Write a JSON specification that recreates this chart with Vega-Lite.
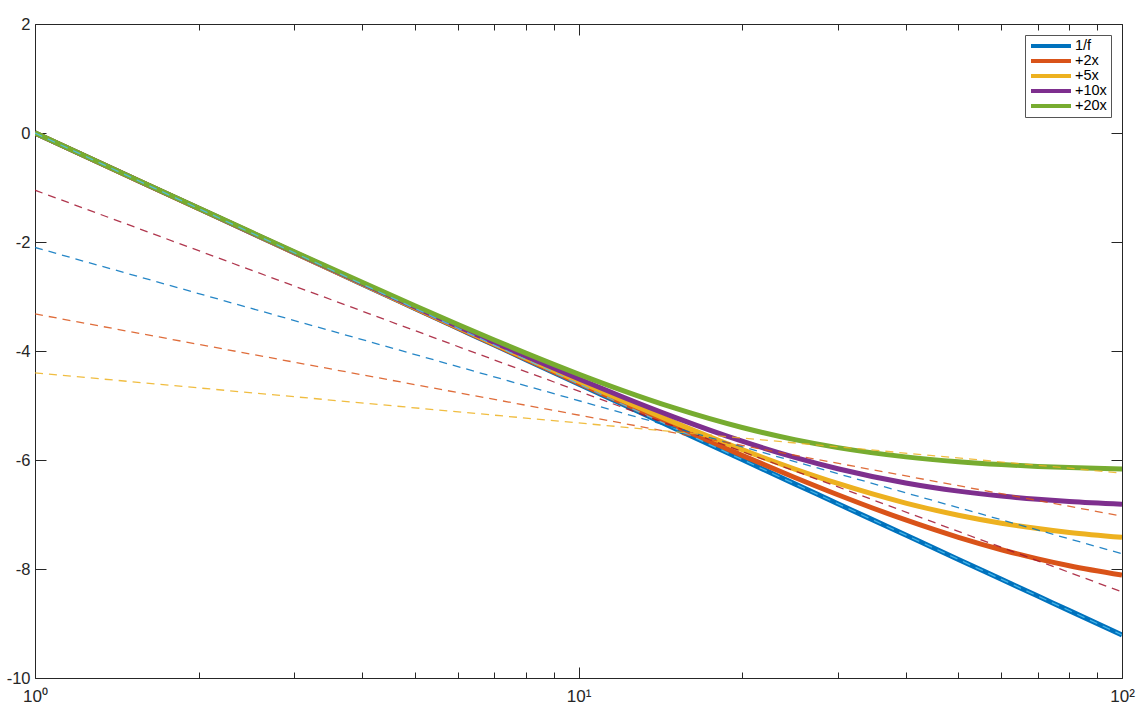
{
  "$schema": "https://vega.github.io/schema/vega-lite/v6.json",
  "width": 1087,
  "height": 654,
  "autosize": {"type": "none"},
  "padding": {"left": 35, "top": 24, "right": 22, "bottom": 44},
  "background": "white",
  "config": {
    "view": {"stroke": null},
    "font": "Liberation Sans",
    "axis": {"grid": false, "title": null, "domainColor": "#262626", "tickColor": "#262626", "labelColor": "#262626", "labelFontSize": 16.5, "labelFont": "Liberation Sans", "labelFlush": false, "labelOverlap": false}
  },
  "datasets": {
    "curves": [
      {"f": 1, "y": 0, "s": "1/f"}, {"f": 1.5, "y": -0.8109, "s": "1/f"}, {"f": 2, "y": -1.3863, "s": "1/f"}, {"f": 3, "y": -2.1972, "s": "1/f"}, {"f": 4, "y": -2.7726, "s": "1/f"}, {"f": 5, "y": -3.2189, "s": "1/f"}, {"f": 6, "y": -3.5835, "s": "1/f"}, {"f": 7, "y": -3.8918, "s": "1/f"}, {"f": 8, "y": -4.1589, "s": "1/f"}, {"f": 10, "y": -4.6052, "s": "1/f"}, {"f": 12, "y": -4.9698, "s": "1/f"}, {"f": 15, "y": -5.4161, "s": "1/f"}, {"f": 20, "y": -5.9915, "s": "1/f"}, {"f": 25, "y": -6.4378, "s": "1/f"}, {"f": 30, "y": -6.8024, "s": "1/f"}, {"f": 40, "y": -7.3778, "s": "1/f"}, {"f": 50, "y": -7.8240, "s": "1/f"}, {"f": 60, "y": -8.1887, "s": "1/f"}, {"f": 70, "y": -8.4970, "s": "1/f"}, {"f": 80, "y": -8.7641, "s": "1/f"}, {"f": 100, "y": -9.2103, "s": "1/f"},
      {"f": 1, "y": 0.0002, "s": "+2x"}, {"f": 1.5, "y": -0.8105, "s": "+2x"}, {"f": 2, "y": -1.3855, "s": "+2x"}, {"f": 3, "y": -2.1954, "s": "+2x"}, {"f": 4, "y": -2.7694, "s": "+2x"}, {"f": 5, "y": -3.2139, "s": "+2x"}, {"f": 6, "y": -3.5763, "s": "+2x"}, {"f": 7, "y": -3.8820, "s": "+2x"}, {"f": 8, "y": -4.1462, "s": "+2x"}, {"f": 10, "y": -4.5854, "s": "+2x"}, {"f": 12, "y": -4.9414, "s": "+2x"}, {"f": 15, "y": -5.3721, "s": "+2x"}, {"f": 20, "y": -5.9145, "s": "+2x"}, {"f": 25, "y": -6.3200, "s": "+2x"}, {"f": 30, "y": -6.6369, "s": "+2x"}, {"f": 40, "y": -7.1001, "s": "+2x"}, {"f": 50, "y": -7.4186, "s": "+2x"}, {"f": 60, "y": -7.6464, "s": "+2x"}, {"f": 70, "y": -7.8139, "s": "+2x"}, {"f": 80, "y": -7.9399, "s": "+2x"}, {"f": 100, "y": -8.1117, "s": "+2x"},
      {"f": 1, "y": 0.0005, "s": "+5x"}, {"f": 1.5, "y": -0.8098, "s": "+5x"}, {"f": 2, "y": -1.3843, "s": "+5x"}, {"f": 3, "y": -2.1927, "s": "+5x"}, {"f": 4, "y": -2.7646, "s": "+5x"}, {"f": 5, "y": -3.2065, "s": "+5x"}, {"f": 6, "y": -3.5657, "s": "+5x"}, {"f": 7, "y": -3.8676, "s": "+5x"}, {"f": 8, "y": -4.1274, "s": "+5x"}, {"f": 10, "y": -4.5564, "s": "+5x"}, {"f": 12, "y": -4.9003, "s": "+5x"}, {"f": 15, "y": -5.3095, "s": "+5x"}, {"f": 20, "y": -5.8092, "s": "+5x"}, {"f": 25, "y": -6.1658, "s": "+5x"}, {"f": 30, "y": -6.4308, "s": "+5x"}, {"f": 40, "y": -6.7900, "s": "+5x"}, {"f": 50, "y": -7.0131, "s": "+5x"}, {"f": 60, "y": -7.1591, "s": "+5x"}, {"f": 70, "y": -7.2586, "s": "+5x"}, {"f": 80, "y": -7.3290, "s": "+5x"}, {"f": 100, "y": -7.4186, "s": "+5x"},
      {"f": 1, "y": 0.0010, "s": "+10x"}, {"f": 1.5, "y": -0.8087, "s": "+10x"}, {"f": 2, "y": -1.3823, "s": "+10x"}, {"f": 3, "y": -2.1883, "s": "+10x"}, {"f": 4, "y": -2.7567, "s": "+10x"}, {"f": 5, "y": -3.1942, "s": "+10x"}, {"f": 6, "y": -3.5481, "s": "+10x"}, {"f": 7, "y": -3.8440, "s": "+10x"}, {"f": 8, "y": -4.0969, "s": "+10x"}, {"f": 10, "y": -4.5099, "s": "+10x"}, {"f": 12, "y": -4.8353, "s": "+10x"}, {"f": 15, "y": -5.2131, "s": "+10x"}, {"f": 20, "y": -5.6550, "s": "+10x"}, {"f": 25, "y": -5.9522, "s": "+10x"}, {"f": 30, "y": -6.1605, "s": "+10x"}, {"f": 40, "y": -6.4223, "s": "+10x"}, {"f": 50, "y": -6.5713, "s": "+10x"}, {"f": 60, "y": -6.6626, "s": "+10x"}, {"f": 70, "y": -6.7220, "s": "+10x"}, {"f": 80, "y": -6.7626, "s": "+10x"}, {"f": 100, "y": -6.8125, "s": "+10x"},
      {"f": 1, "y": 0.0020, "s": "+20x"}, {"f": 1.5, "y": -0.8065, "s": "+20x"}, {"f": 2, "y": -1.3783, "s": "+20x"}, {"f": 3, "y": -2.1794, "s": "+20x"}, {"f": 4, "y": -2.7411, "s": "+20x"}, {"f": 5, "y": -3.1701, "s": "+20x"}, {"f": 6, "y": -3.5140, "s": "+20x"}, {"f": 7, "y": -3.7983, "s": "+20x"}, {"f": 8, "y": -4.0384, "s": "+20x"}, {"f": 10, "y": -4.4229, "s": "+20x"}, {"f": 12, "y": -4.7167, "s": "+20x"}, {"f": 15, "y": -5.0445, "s": "+20x"}, {"f": 20, "y": -5.4037, "s": "+20x"}, {"f": 25, "y": -5.6268, "s": "+20x"}, {"f": 30, "y": -5.7728, "s": "+20x"}, {"f": 40, "y": -5.9427, "s": "+20x"}, {"f": 50, "y": -6.0323, "s": "+20x"}, {"f": 60, "y": -6.0846, "s": "+20x"}, {"f": 70, "y": -6.1175, "s": "+20x"}, {"f": 80, "y": -6.1394, "s": "+20x"}, {"f": 100, "y": -6.1658, "s": "+20x"}
    ],
    "fits": [
      {"f": 1, "y": 0, "s": "1/f fit"}, {"f": 100, "y": -9.21, "s": "1/f fit"},
      {"f": 1, "y": -1.05, "s": "+2x fit"}, {"f": 100, "y": -8.42, "s": "+2x fit"},
      {"f": 1, "y": -2.10, "s": "+5x fit"}, {"f": 100, "y": -7.72, "s": "+5x fit"},
      {"f": 1, "y": -3.32, "s": "+10x fit"}, {"f": 100, "y": -7.03, "s": "+10x fit"},
      {"f": 1, "y": -4.40, "s": "+20x fit"}, {"f": 100, "y": -6.24, "s": "+20x fit"}
    ]
  },
  "resolve": {"scale": {"color": "independent"}, "axis": {"x": "independent", "y": "independent"}},
  "layer": [
    {
      "data": {"name": "curves"},
      "mark": {"type": "line", "strokeWidth": 5, "clip": true, "interpolate": "monotone"},
      "encoding": {
        "x": {"field": "f", "type": "quantitative", "scale": {"type": "log", "domain": [1, 100]},
          "axis": {"orient": "bottom", "values": [1,2,3,4,5,6,7,8,9,10,20,30,40,50,60,70,80,90,100],
            "tickSize": {"condition": {"test": "datum.value == 1 || datum.value == 10 || datum.value == 100", "value": -11}, "value": -6},
            "labelExpr": "datum.value == 1 ? '10⁰' : datum.value == 10 ? '10¹' : datum.value == 100 ? '10²' : ''",
            "labelFontSize": 17,
            "labelPadding": 21}},
        "y": {"field": "y", "type": "quantitative", "scale": {"domain": [-10, 2], "nice": false, "zero": false},
          "axis": {"orient": "left", "values": [-10,-8,-6,-4,-2,0,2], "tickSize": -11, "labelExpr": "'' + datum.value", "labelPadding": 16}},
        "color": {"field": "s", "type": "nominal", "sort": null,
          "scale": {"domain": ["1/f", "+2x", "+5x", "+10x", "+20x"], "range": ["#0072BD", "#D95319", "#EDB120", "#7E2F8E", "#77AC30"]},
          "legend": {"title": null, "orient": "top-right", "offset": 11, "symbolType": "stroke", "symbolSize": 1600, "symbolStrokeWidth": 4, "clipHeight": 14, "rowPadding": 0, "labelFontSize": 14.5, "labelColor": "#000000", "labelOffset": 2, "padding": 4, "strokeColor": "#555555", "fillColor": "white", "symbolOffset": 0}}
      }
    },
    {
      "data": {"name": "fits"},
      "mark": {"type": "line", "strokeWidth": 1.3, "strokeDash": [8, 6], "opacity": 0.85, "clip": true},
      "encoding": {
        "x": {"field": "f", "type": "quantitative", "scale": {"type": "log", "domain": [1, 100]},
          "axis": {"orient": "top", "values": [1,2,3,4,5,6,7,8,9,10,20,30,40,50,60,70,80,90,100],
            "tickSize": {"condition": {"test": "datum.value == 1 || datum.value == 10 || datum.value == 100", "value": -11}, "value": -6},
            "labels": false}},
        "y": {"field": "y", "type": "quantitative", "scale": {"domain": [-10, 2], "nice": false, "zero": false},
          "axis": {"orient": "right", "values": [-10,-8,-6,-4,-2,0,2], "tickSize": -11, "labels": false}},
        "color": {"field": "s", "type": "nominal", "sort": null,
          "scale": {"domain": ["1/f fit", "+2x fit", "+5x fit", "+10x fit", "+20x fit"], "range": ["#4DBEEE", "#A2142F", "#0072BD", "#D95319", "#EDB120"]},
          "legend": null}
      }
    }
  ]
}
